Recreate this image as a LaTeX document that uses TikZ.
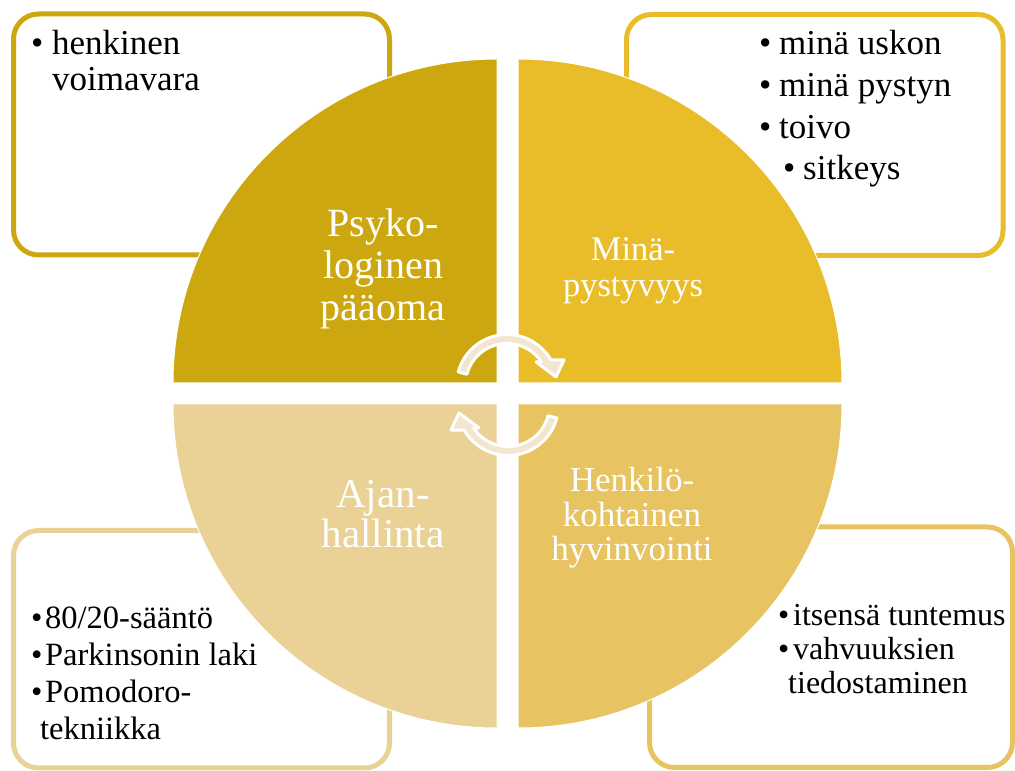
\documentclass[tikz,border=0pt]{standalone}
\usepackage{fontspec}
\setmainfont{Liberation Serif}

\definecolor{goldA}{RGB}{205,167,15}
\definecolor{goldB}{RGB}{233,188,42}
\definecolor{goldC}{RGB}{234,209,150}
\definecolor{goldD}{RGB}{232,195,97}
\definecolor{arrowcream}{RGB}{242,230,206}

% bullet set in a box of fixed width
\newcommand\bl[1]{\makebox[#1][l]{\textbullet}}

\begin{document}
\begin{tikzpicture}[x=1pt,y=1pt,
  infobox/.style={line width=5, rounded corners=25, fill=white},
  quarter/.style={draw=white, line width=1},
  % multi-line nodes: the base anchor sits on the last line
  qlabel/.style={text=white, align=center, inner sep=0, anchor=base},
  listtext/.style={text=black, align=left, inner sep=0, anchor=base west},
  cyclearrow/.pic={
    \path[fill=arrowcream, draw=white, line width=3, line join=round]
      (165:50.5) arc[start angle=165, end angle=30, radius=50.5]
      -- (57,25) -- (49,8) -- (29,23)
      -- (34:41.5) arc[start angle=34, end angle=165, radius=41.5] -- cycle;
  }
]
\useasboundingbox (0,0) rectangle (1015,771);

% side boxes
\draw[infobox, draw=goldA] (13.5,516) rectangle (389.5,757);
\draw[infobox, draw=goldB] (626.5,515.5) rectangle (1003,756.5);
\draw[infobox, draw=goldC] (13.5,3) rectangle (389.5,240.5);
\draw[infobox, draw=goldD] (649.5,3.5) rectangle (1012.5,244);

% four quarter discs
\path[fill=goldA, quarter] (497,388) -- (173,388) arc[start angle=180, end angle=90, radius=324] -- cycle;
\path[fill=goldB, quarter] (518,388) -- (518,712) arc[start angle=90, end angle=0, radius=324] -- cycle;
\path[fill=goldC, quarter] (497,367) -- (497,43) arc[start angle=270, end angle=180, radius=324] -- cycle;
\path[fill=goldD, quarter] (518,367) -- (842,367) arc[start angle=0, end angle=-90, radius=324] -- cycle;

% circular arrows in the middle
\pic at (507,386) {cyclearrow};
\pic[rotate=180] at (508,366) {cyclearrow};

% quarter labels
\node[qlabel, font=\fontsize{40}{42}\selectfont] (psy) at (383,450) {Psyko-\\loginen\\pääoma};
\node[qlabel, font=\fontsize{34.5}{36}\selectfont] (mina) at (633,474) {Minä-\\pystyvyys};
\node[qlabel, font=\fontsize{41}{40}\selectfont] (ajan) at (383,223) {Ajan-\\hallinta};
\node[qlabel, font=\fontsize{35}{34.5}\selectfont] (henk) at (632,210) {Henkilö-\\kohtainen\\hyvinvointi};

% box lists
\node[listtext, font=\fontsize{35}{36}\selectfont] (voima) at (31,680)
  {\bl{21pt}henkinen\\\hspace*{21pt}voimavara};
\node[listtext, font=\fontsize{35}{41.7}\selectfont] (usko) at (759,591)
  {\bl{20pt}minä uskon\\\bl{20pt}minä pystyn\\\bl{20pt}toivo\\\hspace*{24pt}\bl{20pt}sitkeys};
\node[listtext, font=\fontsize{32.5}{37}\selectfont] (aika) at (31,31)
  {\bl{14pt}80/20-sääntö\\\bl{14pt}Parkinsonin laki\\\bl{14pt}Pomodoro-\\\hspace*{9pt}tekniikka};
\node[listtext, font=\fontsize{32}{34}\selectfont] (itse) at (778,77)
  {\bl{15pt}itsensä tuntemus\\\bl{15pt}vahvuuksien\\\hspace*{10pt}tiedostaminen};
\end{tikzpicture}
\end{document}
